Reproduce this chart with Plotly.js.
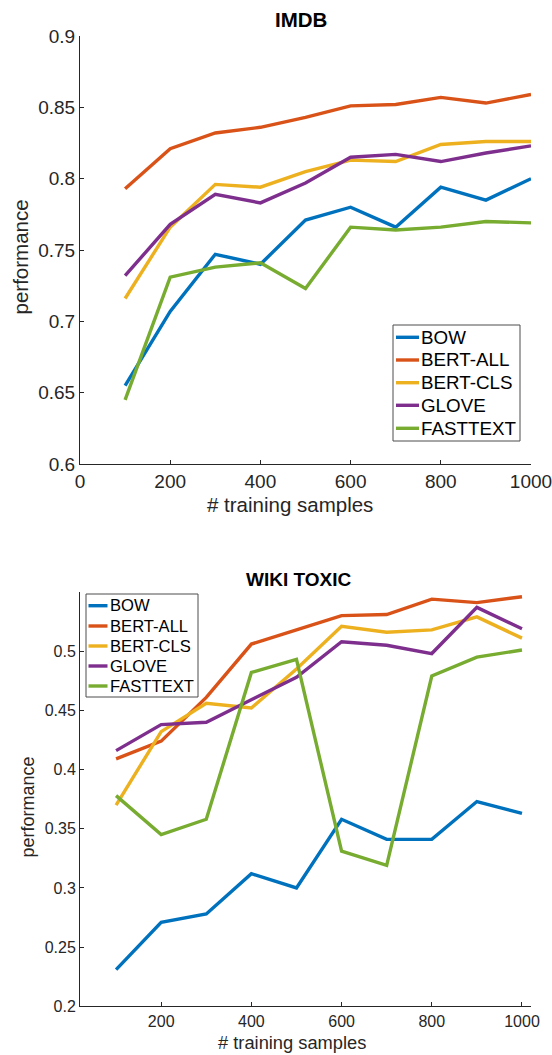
<!DOCTYPE html>
<html>
<head>
<meta charset="utf-8">
<script src="https://cdn.plot.ly/plotly-3.0.1.min.js"></script>
<style>html,body{margin:0;padding:0;background:#fff;}#chart{width:552px;height:1055px;}</style>
</head>
<body>
<div id="chart"></div>
<script>
const samples = [100, 200, 300, 400, 500, 600, 700, 800, 900, 1000];
const seriesNames = ['BOW', 'BERT-ALL', 'BERT-CLS', 'GLOVE', 'FASTTEXT'];
const seriesColors = ['#0072BD', '#D95319', '#EDB120', '#7E2F8E', '#77AC30'];

const imdbBow      = [0.655, 0.707, 0.747, 0.740, 0.771, 0.780, 0.766, 0.794, 0.785, 0.800];
const imdbBertAll  = [0.793, 0.821, 0.832, 0.836, 0.843, 0.851, 0.852, 0.857, 0.853, 0.859];
const imdbBertCls  = [0.716, 0.766, 0.796, 0.794, 0.805, 0.813, 0.812, 0.824, 0.826, 0.826];
const imdbGlove    = [0.732, 0.768, 0.789, 0.783, 0.797, 0.815, 0.817, 0.812, 0.818, 0.823];
const imdbFasttext = [0.645, 0.731, 0.738, 0.741, 0.723, 0.766, 0.764, 0.766, 0.770, 0.769];

const wikiBow      = [0.231, 0.271, 0.278, 0.312, 0.300, 0.358, 0.341, 0.341, 0.373, 0.363];
const wikiBertAll  = [0.409, 0.424, 0.461, 0.506, 0.518, 0.530, 0.531, 0.544, 0.541, 0.546];
const wikiBertCls  = [0.370, 0.432, 0.456, 0.452, 0.485, 0.521, 0.516, 0.518, 0.529, 0.511];
const wikiGlove    = [0.416, 0.438, 0.440, 0.459, 0.478, 0.508, 0.505, 0.498, 0.537, 0.519];
const wikiFasttext = [0.378, 0.345, 0.358, 0.482, 0.493, 0.331, 0.319, 0.479, 0.495, 0.501];

const imdbXTicks = [0, 200, 400, 600, 800, 1000];
const imdbYTicks = [0.6, 0.65, 0.7, 0.75, 0.8, 0.85, 0.9];
const imdbYLabels = ['0.6', '0.65', '0.7', '0.75', '0.8', '0.85', '0.9'];
const wikiXTicks = [200, 400, 600, 800, 1000];
const wikiYTicks = [0.2, 0.25, 0.3, 0.35, 0.4, 0.45, 0.5];
const wikiYLabels = ['0.2', '0.25', '0.3', '0.35', '0.4', '0.45', '0.5'];

const FONT = 'Liberation Sans, Arial, Helvetica, sans-serif';
const AX = '#262626';
const W = 552, H = 1055;
const px = v => v / W;
const py = v => 1 - v / H;

const imdbData = [imdbBow, imdbBertAll, imdbBertCls, imdbGlove, imdbFasttext];
const wikiData = [wikiBow, wikiBertAll, wikiBertCls, wikiGlove, wikiFasttext];

const traces = [];
imdbData.forEach((ys, i) => traces.push({
  x: samples, y: ys, name: seriesNames[i], type: 'scatter', mode: 'lines',
  line: {color: seriesColors[i], width: 3.4}, xaxis: 'x', yaxis: 'y', showlegend: false
}));
wikiData.forEach((ys, i) => traces.push({
  x: samples, y: ys, name: seriesNames[i], type: 'scatter', mode: 'lines',
  line: {color: seriesColors[i], width: 3.4}, xaxis: 'x2', yaxis: 'y2', showlegend: false
}));

const baseAxis = {
  showline: true, linecolor: AX, linewidth: 1, mirror: false,
  showgrid: false, zeroline: false, ticks: 'inside', ticklen: 4,
  tickcolor: AX, tickwidth: 1, automargin: false, ticklabeloverflow: 'allow'
};

// legend drawn as a boxed key (one entry per series)
const shapes = [];
const annotations = [];
function addKey(box, rows, lineX0, lineX1, textX, fontSize) {
  shapes.push({type: 'rect', xref: 'paper', yref: 'paper',
    x0: px(box[0]), x1: px(box[1]), y0: py(box[3]), y1: py(box[2]),
    line: {color: '#4d4d4d', width: 1}, fillcolor: '#fff', layer: 'above'});
  seriesNames.forEach((name, i) => {
    shapes.push({type: 'line', xref: 'paper', yref: 'paper',
      x0: px(lineX0), x1: px(lineX1), y0: py(rows[i]), y1: py(rows[i]),
      line: {color: seriesColors[i], width: 3.4}, layer: 'above'});
    annotations.push({text: name, xref: 'paper', yref: 'paper', x: px(textX), y: py(rows[i]),
      xanchor: 'left', yanchor: 'middle', showarrow: false, borderpad: 0,
      font: {size: fontSize, color: '#000', family: FONT}});
  });
}
addKey([393, 520, 325, 441], [337.3, 360, 382.7, 405.3, 428.3], 396, 419, 420, 18.8);
addKey([86, 198, 594, 697], [605.7, 626, 646, 666, 686], 88.5, 107.5, 109, 16.6);

annotations.push(
  {text: '<b>IMDB</b>', xref: 'paper', yref: 'paper', x: px(301), y: py(19.5),
   xanchor: 'center', yanchor: 'middle', showarrow: false, font: {size: 20.5, color: '#000', family: FONT}},
  {text: '<b>WIKI TOXIC</b>', xref: 'paper', yref: 'paper', x: px(298), y: py(579),
   xanchor: 'center', yanchor: 'middle', showarrow: false, font: {size: 19, color: '#000', family: FONT}},
  {text: '# training samples', xref: 'paper', yref: 'paper', x: px(290), y: py(505),
   xanchor: 'center', yanchor: 'middle', showarrow: false, font: {size: 20.5, color: AX, family: FONT}},
  {text: '# training samples', xref: 'paper', yref: 'paper', x: px(292), y: py(1042),
   xanchor: 'center', yanchor: 'middle', showarrow: false, font: {size: 18.3, color: AX, family: FONT}},
  {text: 'performance', xref: 'paper', yref: 'paper', x: px(20.5), y: py(257), textangle: -90,
   xanchor: 'center', yanchor: 'middle', showarrow: false, font: {size: 20.5, color: AX, family: FONT}},
  {text: 'performance', xref: 'paper', yref: 'paper', x: px(27), y: py(807.5), textangle: -90,
   xanchor: 'center', yanchor: 'middle', showarrow: false, font: {size: 18, color: AX, family: FONT}}
);

const layout = {
  width: W, height: H,
  margin: {l: 0, r: 0, t: 0, b: 0},
  paper_bgcolor: '#fff', plot_bgcolor: '#fff',
  font: {family: FONT, color: AX},
  showlegend: false,
  xaxis: Object.assign({}, baseAxis, {
    domain: [px(80), px(531)], range: [0, 1000], anchor: 'y',
    tickmode: 'array', tickvals: imdbXTicks, ticktext: imdbXTicks.map(String),
    tickfont: {size: 19, color: AX}
  }),
  yaxis: Object.assign({}, baseAxis, {
    domain: [py(464), py(36)], range: [0.6, 0.9], anchor: 'x',
    tickmode: 'array', tickvals: imdbYTicks, ticktext: imdbYLabels,
    tickfont: {size: 19, color: AX}
  }),
  xaxis2: Object.assign({}, baseAxis, {
    domain: [px(80), px(531)], range: [20, 1020], anchor: 'y2',
    tickmode: 'array', tickvals: wikiXTicks, ticktext: wikiXTicks.map(String),
    tickfont: {size: 16, color: AX}
  }),
  yaxis2: Object.assign({}, baseAxis, {
    domain: [py(1006.3), py(592)], range: [0.2, 0.55], anchor: 'x2',
    tickmode: 'array', tickvals: wikiYTicks, ticktext: wikiYLabels,
    tickfont: {size: 16, color: AX}
  }),
  shapes: shapes,
  annotations: annotations
};

Plotly.newPlot('chart', traces, layout, {staticPlot: true, displayModeBar: false});
</script>
</body>
</html>
